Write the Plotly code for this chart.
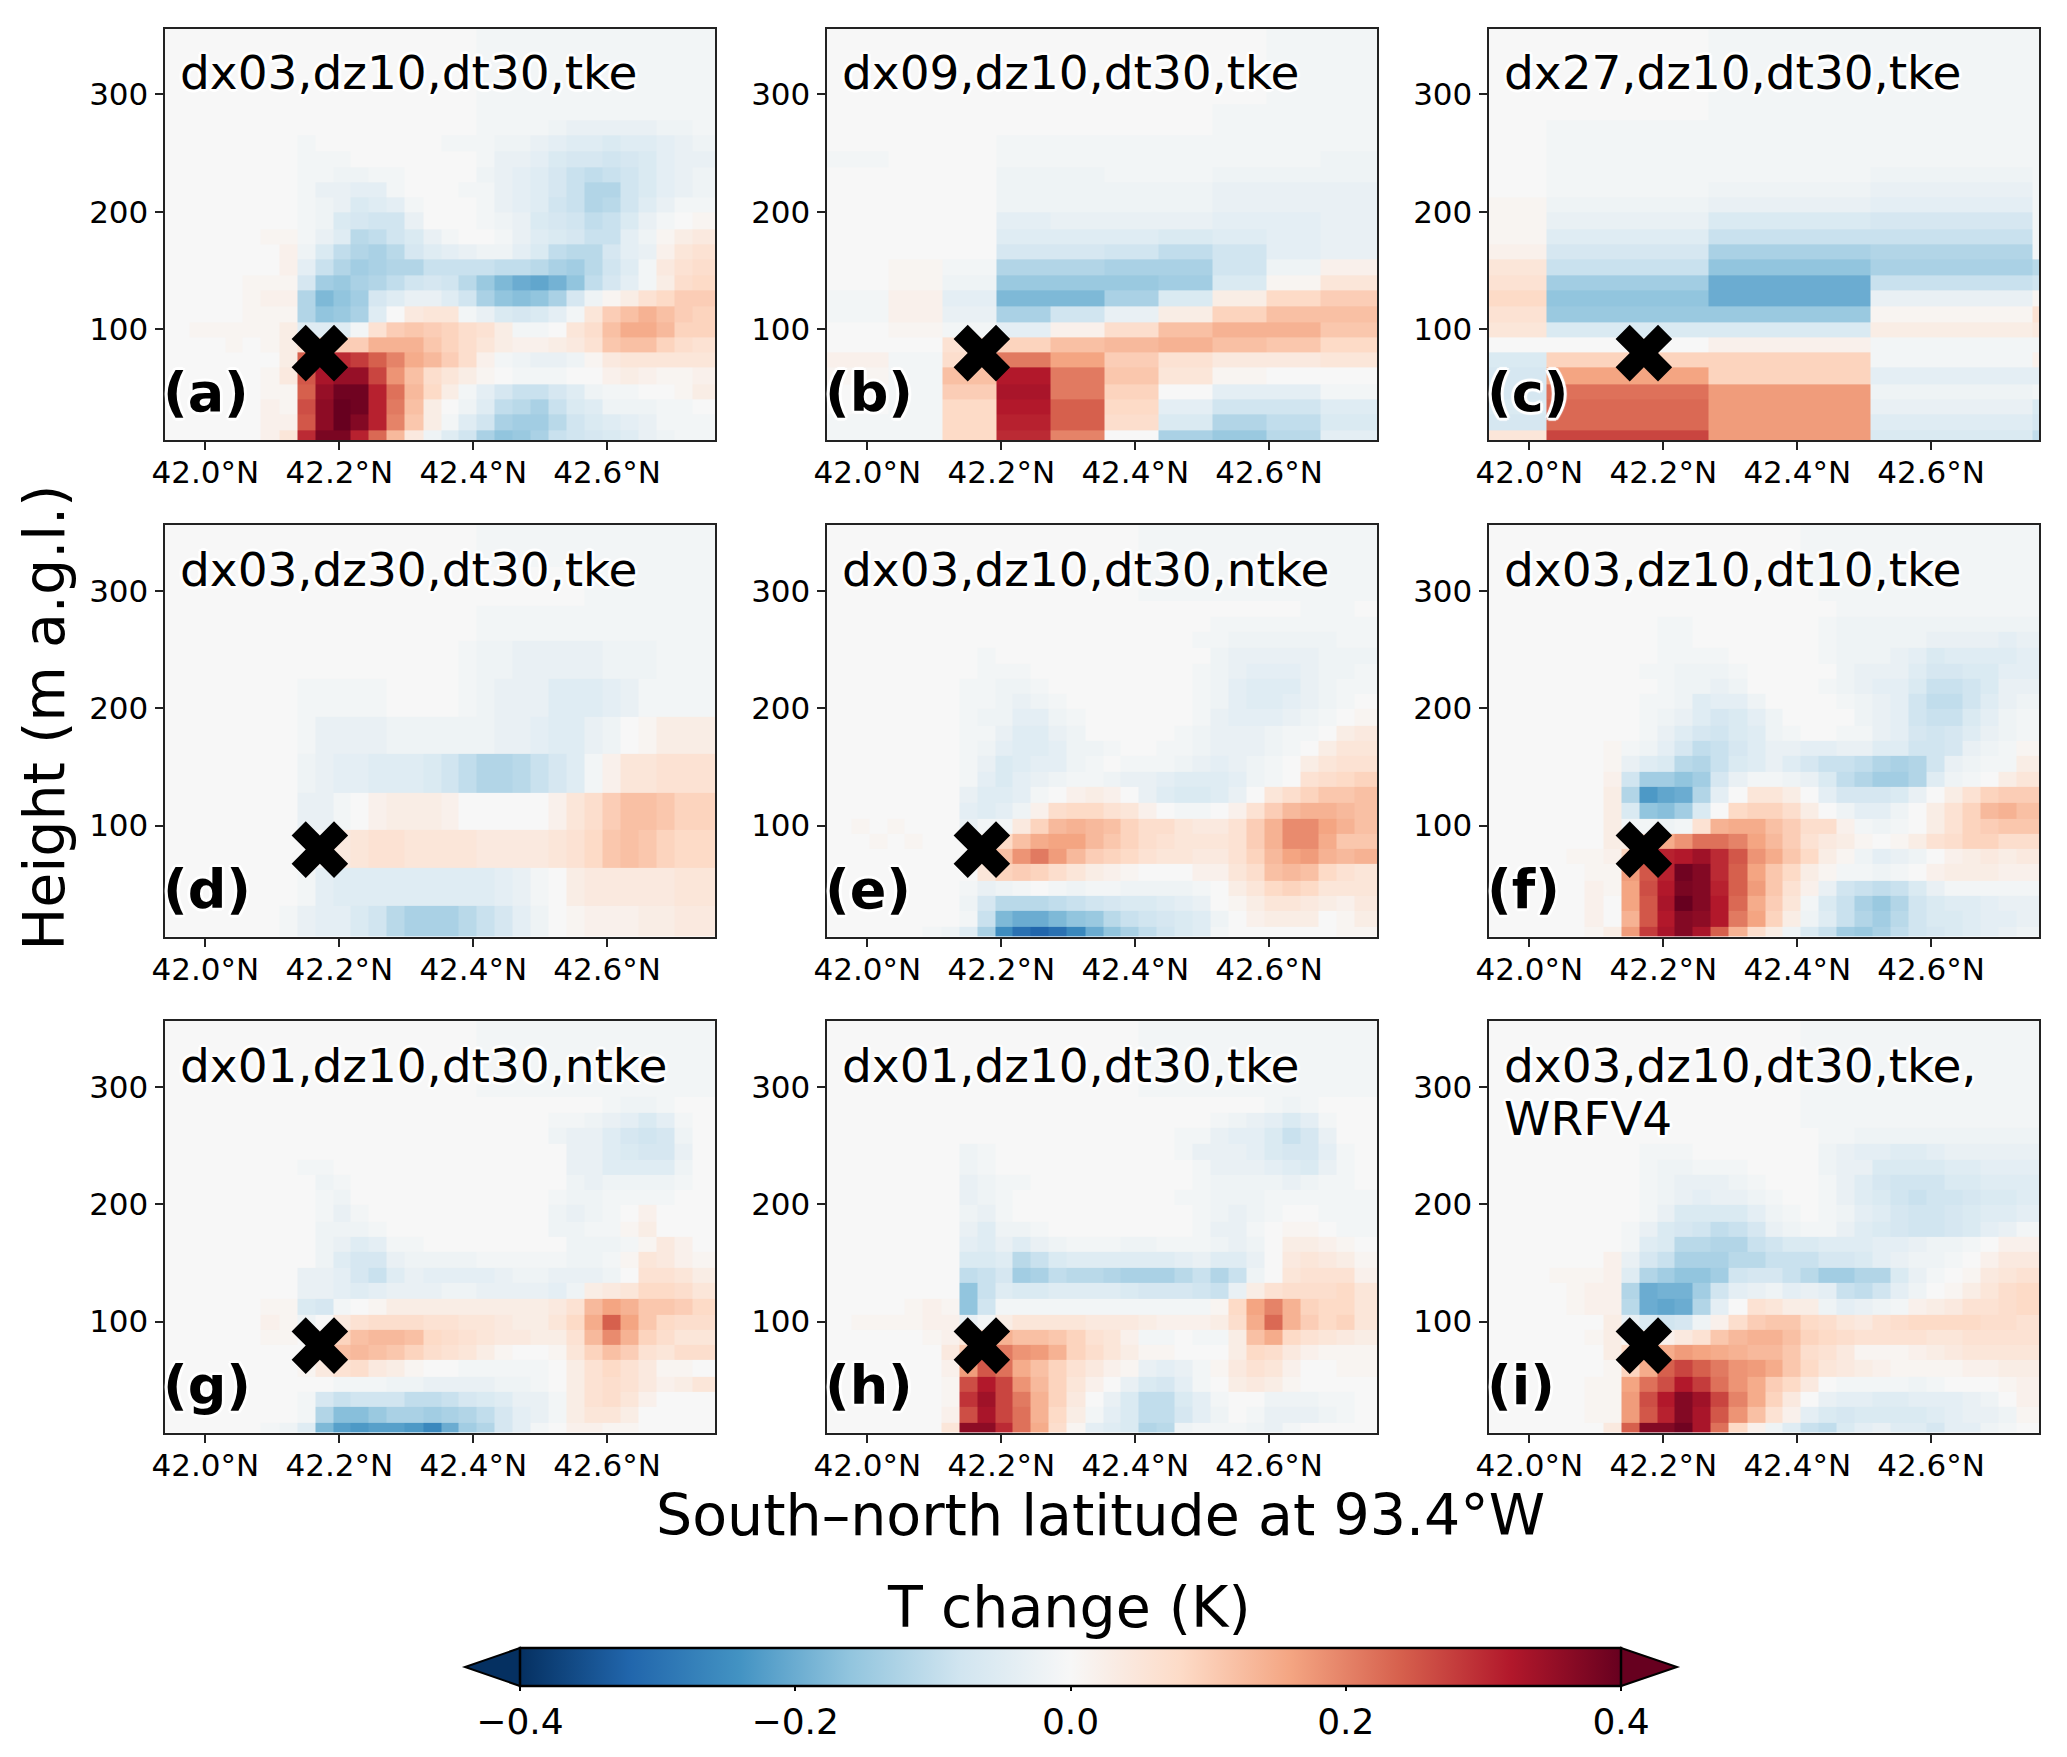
import numpy as np
import plotly.graph_objects as go

W, H = 2067, 1757

LAT_EDGES_3KM = [41.939,41.976,42.003,42.030,42.056,42.083,42.110,42.137,42.164,42.191,42.217,42.244,42.271,42.298,42.325,42.352,42.378,42.405,42.432,42.459,42.486,42.512,42.539,42.566,42.593,42.620,42.647,42.673,42.700,42.727,42.761]
LAT_EDGES_9KM = [41.939,42.031,42.112,42.193,42.273,42.354,42.435,42.515,42.596,42.677,42.761]
LAT_EDGES_27KM = [41.939,42.025,42.267,42.509,42.752,42.761]
Z_EDGES_10 = [5,14,27,40,53,67,80,93,106,119,133,146,159,172,185,199,212,225,238,251,265,278,291,304,317,331,344,357]
Z_EDGES_30 = [5,32,64,96,128,161,193,225,257,287,320,357]

TOP_3KM = [0,0,0,0,0,0,0, 0,0,0,0,0,0,0,0,0,0,-1,-1,-1,-1,-1,-1,-1,-1,-1,-1,-1,-1,-1]

# values in hundredths of a kelvin; rows run bottom to top
PANEL_A = [
[0,0,0,0,0,2,5, 30,38,38,31,23,13,4,-2,-5,-8,-13,-16,-15,-13,-9,-8,-7,-6,-5,-3,-2,-1,-1],
[0,0,0,0,0,2,2, 25,36,40,37,31,20,11,3,-1,-5,-8,-13,-14,-14,-11,-8,-6,-5,-4,-3,-1,-1,-1],
[0,0,0,0,0,2,1, 26,36,40,39,31,21,12,3,0,-2,-5,-10,-11,-13,-9,-6,-5,-2,-2,-2,-1,-1,0],
[0,0,0,0,0,1,1, 24,35,39,39,31,22,13,8,3,-1,-4,-7,-9,-9,-7,-5,-2,-1,-1,0,0,1,3],
[0,0,0,0,0,1,4, 25,33,35,35,27,18,12,7,5,3,1,0,-1,-1,-1,0,0,2,3,2,1,1,2],
[0,0,0,0,0,0,3, 24,30,30,28,24,20,15,13,10,7,2,-1,-2,-3,-3,-2,1,4,5,5,5,5,5],
[0,0,0,1,0,1,3, 6,9,10,10,14,14,14,11,9,7,5,3,2,2,3,4,6,11,12,12,9,7,6],
[0,1,1,1,1,1,3, -5,-5,-5,-1,6,10,11,10,9,7,6,3,-1,-1,0,5,7,12,15,15,13,9,9],
[0,0,0,0,1,1,1, -12,-16,-15,-13,-5,0,4,5,5,-1,-3,-6,-7,-6,-4,-1,5,10,12,14,12,10,9],
[0,0,0,0,1,2,2, -12,-18,-16,-14,-7,-5,-3,-3,-5,-8,-13,-16,-17,-16,-13,-7,-2,1,3,6,8,10,10],
[0,0,0,0,1,1,1, -7,-14,-15,-13,-12,-10,-8,-7,-8,-11,-15,-18,-20,-21,-19,-16,-10,-7,-4,-1,3,7,8],
[0,0,0,0,0,0,2, -4,-9,-12,-14,-13,-12,-12,-9,-9,-9,-9,-10,-10,-11,-13,-14,-11,-8,-5,-1,4,6,7],
[0,0,0,0,0,0,2, -2,-6,-10,-12,-13,-11,-7,-5,-4,-3,-2,-2,-4,-6,-10,-11,-11,-7,-4,-3,2,5,6],
[0,0,0,0,0,1,1, -1,-3,-5,-11,-10,-8,-6,-3,-1,0,0,-1,-3,-5,-6,-7,-9,-9,-4,-2,1,3,4],
[0,0,0,0,0,0,0, -1,-2,-6,-7,-8,-8,-3,0,0,0,-1,-2,-3,-6,-7,-8,-10,-9,-6,-3,-1,0,1],
[0,0,0,0,0,0,0, -1,-2,-3,-6,-5,-4,-1,0,0,0,-1,-3,-4,-5,-8,-9,-12,-11,-8,-5,-3,-1,-1],
[0,0,0,0,0,0,0, -1,-3,-3,-4,-4,-1,0,0,0,-1,-1,-3,-4,-5,-7,-9,-12,-12,-8,-6,-4,-3,-2],
[0,0,0,0,0,0,0, -1,-1,-2,-2,-1,-1,0,0,0,0,-2,-3,-4,-5,-7,-9,-10,-9,-8,-6,-4,-3,-2],
[0,0,0,0,0,0,0, -1,-1,-1,0,0,0,0,0,0,0,-1,-3,-3,-4,-6,-7,-7,-8,-7,-6,-4,-3,-3],
[0,0,0,0,0,0,0, -1,0,0,0,0,0,0,0,-1,-1,-1,-2,-2,-3,-4,-5,-5,-6,-5,-5,-4,-3,-2],
[0,0,0,0,0,0,0, 0,0,0,0,0,0,0,0,0,0,-1,-1,-1,-1,-2,-3,-3,-3,-3,-3,-2,-2,-1],
TOP_3KM, TOP_3KM, TOP_3KM, TOP_3KM, TOP_3KM, TOP_3KM,
]

PANEL_B = [
[-1,-1,8,30,20,0,-13,-15,-11,-4],
[-1,-1,8,31,24,7,-6,-12,-10,-6],
[0,-1,8,32,24,8,-4,-8,-8,-5],
[0,-1,10,33,21,9,0,-4,-4,-1],
[1,-1,12,32,21,11,5,1,0,0],
[2,-1,7,21,16,10,6,4,4,5],
[0,0,6,9,12,13,14,12,11,8],
[0,1,-1,-4,2,7,12,14,14,11],
[-1,2,-3,-13,-8,-3,3,9,12,12],
[-1,2,-4,-18,-18,-13,-6,3,8,10],
[0,1,-2,-15,-15,-15,-14,-6,1,5],
[0,1,-1,-12,-12,-13,-13,-8,-2,2],
[0,0,0,-7,-7,-8,-10,-8,-4,-3],
[0,0,0,-5,-5,-5,-6,-5,-4,-3],
[0,0,0,-4,-3,-3,-3,-4,-4,-3],
[0,0,0,-2,-2,-2,-2,-3,-3,-3],
[0,0,0,-2,-2,-2,-2,-3,-3,-3],
[0,0,0,-2,-2,-1,-1,-2,-2,-2],
[-1,0,0,-1,-1,-1,-1,-1,-1,-2],
[0,0,0,-1,-1,-1,-1,-1,-1,-1],
[0,0,0,0,0,0,0,-1,-1,-1],
[0,0,0,0,0,0,0,-1,-1,-1],
[0,0,0,0,0,0,0,0,-1,-1],
[0,0,0,0,0,0,0,0,-1,-1],
[0,0,0,0,0,0,0,0,-1,-1],
[0,0,0,0,0,0,0,0,-1,-1],
[0,0,0,0,0,0,0,0,-1,-1],
]

PANEL_C = [
[5,27,17,-6,-10],
[-7,23,17,-5,-7],
[-6,23,17,-3,-6],
[-7,22,17,-2,-1],
[-7,16,9,-4,-4],
[-6,9,9,-1,2],
[0,0,2,-1,-1],
[5,-6,-6,3,4],
[6,-15,-15,1,6],
[8,-16,-20,-3,1],
[6,-14,-20,-9,-8],
[5,-9,-16,-13,-11],
[2,-7,-13,-12,-1],
[1,-5,-9,-9,-1],
[1,-3,-6,-7,-1],
[1,-2,-3,-4,-1],
[0,-1,-2,-3,-1],
[0,-1,-1,-2,-1],
[0,-1,-1,-1,-1],
[0,-1,-1,-1,-1],
[0,-1,-1,-1,-1],
[0,0,-1,-1,-1],
[0,0,-1,-1,-1],
[0,0,-1,-1,-1],
[0,0,-1,-1,-1],
[0,0,-1,-1,-1],
[0,0,-1,-1,-1],
]

PANEL_D = [
[0,0,0,0,0,0,-1, -3,-4,-4,-6,-8,-11,-13,-13,-13,-11,-9,-7,-4,-2,0,1,2,2,2,3,3,4,4],
[0,0,0,0,0,0,0, -1,-4,-5,-5,-5,-5,-5,-5,-5,-5,-5,-4,-3,-1,0,3,4,4,4,4,4,5,5],
[0,0,0,0,0,0,0, 0,0,4,5,6,6,5,5,5,5,4,4,4,4,5,6,8,11,12,11,9,8,8],
[0,0,0,0,0,0,0, -3,-3,-1,0,2,3,3,3,2,0,0,0,0,0,2,5,7,10,12,12,11,9,9],
[0,0,0,0,0,0,0, -2,-3,-4,-4,-5,-5,-5,-6,-8,-10,-12,-12,-11,-9,-7,-5,-1,2,5,5,6,6,6],
[0,0,0,0,0,0,0, -1,-3,-3,-3,-3,-2,-2,-2,-2,-2,-2,-3,-3,-4,-5,-5,-3,-2,0,1,3,3,3],
[0,0,0,0,0,0,0, -1,-1,-1,-1,-1,0,0,0,0,-1,-2,-3,-3,-3,-5,-5,-5,-4,-3,-1,-1,-1,-1],
[0,0,0,0,0,0,0, 0,0,0,0,0,0,0,0,0,-1,-2,-2,-3,-3,-3,-3,-3,-2,-2,-2,-1,-1,-1],
[0,0,0,0,0,0,0, 0,0,0,0,0,0,0,0,0,0,-1,-1,-1,-1,-1,-1,-1,-1,-1,-1,-1,-1,-1],
[0,0,0,0,0,0,0, 0,0,0,0,0,0,0,0,0,0,0,0,0,0,0,0,-1,-1,-1,-1,-1,-1,-1],
TOP_3KM,
]

PANEL_E = [
[0,0,0,0,0,-1,-2, -5,-13,-25,-30,-32,-30,-26,-20,-16,-13,-10,-8,-6,-5,-1,0,0,0,0,0,0,1,1],
[0,0,0,0,0,0,0, -1,-9,-18,-20,-20,-18,-16,-15,-11,-9,-8,-7,-6,-5,-2,0,2,3,3,3,0,1,3],
[0,0,0,0,0,0,0, -2,-7,-11,-11,-11,-10,-9,-8,-7,-6,-6,-5,-4,-3,0,1,3,5,5,4,3,2,4],
[0,0,0,0,0,0,0, -1,-3,-2,-1,0,-1,-2,-1,-1,-2,-2,-2,-2,-1,0,3,5,8,9,8,5,5,5],
[0,0,0,0,0,0,0, 0,5,9,10,9,7,5,3,2,1,0,0,0,2,2,5,7,12,13,12,8,6,5],
[0,0,0,0,0,0,0, 0,7,12,18,21,17,13,10,9,8,6,5,5,4,4,6,9,13,16,17,14,13,14],
[0,0,1,0,1,0,0, 0,2,8,12,15,16,16,13,11,9,7,6,5,5,5,6,10,14,19,19,15,11,11],
[0,1,0,1,0,0,0, -3,-1,-1,4,9,13,14,13,12,9,7,7,5,4,4,6,10,14,19,19,16,14,12],
[0,0,0,0,0,0,0, -4,-5,-4,-2,2,7,8,8,6,5,2,0,-1,-1,0,2,6,10,13,14,14,13,12],
[0,0,0,0,0,0,0, -3,-5,-5,-4,-1,0,2,3,2,0,-3,-5,-6,-6,-5,-3,0,5,7,9,11,11,12],
[0,0,0,0,0,0,0, -1,-4,-6,-4,-3,-2,-1,-1,-2,-3,-3,-4,-5,-5,-5,-4,-2,-1,0,6,7,8,9],
[0,0,0,0,0,0,0, -1,-3,-6,-5,-4,-4,-2,-1,0,-1,-1,-1,-2,-3,-4,-3,-2,-1,0,3,5,6,6],
[0,0,0,0,0,0,0, -1,-2,-4,-5,-5,-4,-2,-2,-1,0,0,-1,-1,-2,-3,-3,-3,-2,-1,0,3,5,5],
[0,0,0,0,0,0,0, -1,-1,-3,-5,-5,-3,-2,0,0,0,0,0,-1,-2,-3,-3,-3,-2,-1,-1,0,3,4],
[0,0,0,0,0,0,0, -1,-2,-2,-4,-4,-2,-1,0,0,0,0,0,0,-1,-3,-4,-4,-4,-3,-2,-1,0,1],
[0,0,0,0,0,0,0, -1,-1,-2,-3,-2,-1,0,0,0,0,0,0,0,-1,-2,-4,-5,-5,-4,-3,-2,-1,0],
[0,0,0,0,0,0,0, -1,-1,-2,-2,-1,0,0,0,0,0,0,0,0,-1,-2,-4,-5,-5,-5,-3,-2,-1,-1],
[0,0,0,0,0,0,0, 0,-1,-1,-1,0,0,0,0,0,0,0,0,0,-1,-2,-3,-4,-4,-4,-3,-2,-2,-1],
[0,0,0,0,0,0,0, 0,-1,0,0,0,0,0,0,0,0,0,0,0,0,-2,-3,-3,-3,-3,-3,-2,-2,-2],
[0,0,0,0,0,0,0, 0,0,0,0,0,0,0,0,0,0,0,0,0,-1,-1,-2,-2,-2,-2,-2,-2,-1,-1],
[0,0,0,0,0,0,0, 0,0,0,0,0,0,0,0,0,0,0,0,0,0,-1,-1,-1,-1,-1,-1,-1,-1,-1],
[0,0,0,0,0,0,0, 0,0,0,0,0,0,0,0,0,0,0,0,0,0,0,0,0,0,0,-1,-1,-1,0],
TOP_3KM, TOP_3KM, TOP_3KM, TOP_3KM, TOP_3KM,
]

PANEL_F = [
[0,0,0,0,0,1,3, 17,28,33,37,33,24,14,7,3,-2,-6,-9,-14,-15,-13,-10,-8,-7,-6,-5,-4,-3,-2],
[0,0,0,0,0,2,0, 14,25,32,37,36,32,21,16,9,3,-2,-5,-9,-12,-14,-11,-8,-6,-6,-5,-4,-4,-3],
[0,0,0,0,0,2,0, 16,25,33,40,37,32,23,15,10,5,-1,-6,-9,-13,-15,-12,-8,-6,-5,-5,-4,-3,-3],
[0,0,0,0,0,2,1, 16,26,32,38,37,31,24,17,11,6,2,-3,-8,-9,-10,-9,-6,-3,-1,-1,-1,-1,-1],
[0,0,0,0,0,1,1, 17,25,31,39,37,30,24,16,11,8,3,1,-1,-1,-2,-1,0,2,3,3,3,2,2],
[0,0,0,0,1,1,2, 9,20,31,32,34,30,25,18,15,11,8,3,1,-2,-4,-3,-2,0,2,3,4,3,4],
[0,0,0,0,0,0,3, 3,8,15,18,22,22,20,16,13,10,6,4,3,1,0,1,3,6,7,9,9,7,7],
[0,0,0,0,0,0,3, -1,-1,-2,-1,6,14,15,15,12,10,7,7,2,-1,-2,-1,0,3,6,9,10,11,11],
[0,0,0,0,0,0,3, -6,-16,-17,-14,-6,0,8,9,9,7,3,0,-2,-4,-4,-2,0,3,6,9,13,14,12],
[0,0,0,0,0,0,3, -12,-23,-21,-20,-12,-4,0,5,5,3,0,-4,-7,-7,-7,-6,-3,0,3,6,9,10,10],
[0,0,0,0,0,0,2, -8,-14,-14,-16,-14,-7,-3,-1,-1,-2,-3,-6,-10,-12,-14,-14,-12,-5,-2,-1,0,3,5],
[0,0,0,0,0,0,1, -3,-5,-6,-11,-12,-9,-6,-5,-3,-5,-7,-9,-9,-10,-12,-13,-12,-8,-3,-2,-1,-1,3],
[0,0,0,0,0,0,1, -1,-2,-4,-7,-10,-9,-7,-5,-3,-3,-4,-4,-3,-3,-5,-5,-8,-8,-7,-3,-2,-1,1],
[0,0,0,0,0,0,0, 0,-1,-3,-5,-7,-8,-6,-5,-2,-1,0,0,-1,-1,-3,-4,-7,-8,-7,-5,-3,-2,-1],
[0,0,0,0,0,0,0, 0,-1,-2,-3,-5,-7,-6,-4,-2,0,0,0,0,-2,-3,-4,-8,-9,-9,-6,-4,-2,-1],
[0,0,0,0,0,0,0, 0,-1,-1,-2,-5,-4,-4,-2,0,0,0,0,-1,-2,-3,-4,-8,-10,-10,-8,-5,-3,-2],
[0,0,0,0,0,0,0, 0,0,-1,-2,-2,-3,-2,0,0,0,0,-1,-2,-3,-4,-4,-6,-9,-9,-8,-6,-3,-3],
[0,0,0,0,0,0,0, 0,-1,-1,-2,-2,-2,-1,0,0,0,0,0,-2,-3,-3,-3,-5,-7,-7,-6,-6,-4,-4],
[0,0,0,0,0,0,0, 0,0,-1,-1,-1,-1,0,0,0,0,0,-1,-2,-2,-2,-3,-4,-6,-5,-5,-5,-5,-4],
[0,0,0,0,0,0,0, 0,0,-1,-1,0,0,0,0,0,0,0,-1,-2,-2,-2,-2,-2,-3,-3,-3,-3,-4,-3],
[0,0,0,0,0,0,0, 0,0,-1,-1,0,0,0,0,0,0,0,-1,-2,-2,-2,-2,-2,-2,-2,-2,-2,-2,-2],
[0,0,0,0,0,0,0, 0,0,0,0,0,0,0,0,0,0,0,0,-1,-1,-1,-1,-1,-1,-1,-1,-1,-1,-1],
[0,0,0,0,0,0,0, 0,0,0,0,0,0,0,0,0,0,0,-1,-1,-1,-1,-1,-1,-1,-1,-1,-1,-1,-1],
TOP_3KM, TOP_3KM, TOP_3KM, TOP_3KM,
]

PANEL_G = [
[0,0,0,0,0,-1,-2, -5,-18,-22,-23,-22,-22,-23,-26,-20,-14,-12,-7,-4,-1,0,2,2,1,1,0,0,0,0],
[0,0,0,0,0,0,0, -1,-12,-17,-17,-15,-13,-13,-14,-13,-12,-10,-7,-4,-3,-1,3,5,5,3,0,0,0,0],
[0,0,0,0,0,0,0, -1,-7,-9,-8,-8,-8,-10,-10,-9,-7,-6,-5,-3,-3,-1,3,6,7,5,2,0,0,0],
[0,0,0,0,0,0,0, 0,0,-1,-1,-1,-2,-2,-3,-3,-3,-3,-2,-2,-1,0,3,6,7,6,4,2,3,5],
[0,0,0,0,0,0,0, 1,4,6,7,4,3,1,0,0,-1,-1,-1,-1,-1,0,3,6,8,6,4,1,1,0],
[0,0,0,0,0,0,0, 0,4,12,13,12,11,9,7,6,5,3,1,0,0,1,5,9,12,10,6,5,7,7],
[0,0,0,0,0,1,1, 0,2,9,12,13,13,12,8,7,6,5,4,4,3,3,6,13,19,14,9,7,5,5],
[0,0,0,0,0,2,1, -2,0,4,6,7,7,7,6,6,5,5,4,3,3,5,8,15,24,16,11,8,7,7],
[0,0,0,0,0,1,1, -6,-7,-1,0,1,3,3,3,3,3,3,3,3,3,4,6,13,16,14,11,11,10,8],
[0,0,0,0,0,0,0, -3,-3,-4,-5,-4,-3,-3,-3,-2,-2,-3,-3,-3,-3,-4,-2,3,4,5,8,8,7,5],
[0,0,0,0,0,0,0, -3,-3,-4,-7,-9,-5,-3,-4,-4,-4,-4,-3,-2,-2,-3,-3,-3,-2,0,6,6,5,3],
[0,0,0,0,0,0,0, 0,-2,-5,-7,-7,-3,-2,-2,-2,-2,-1,-1,-1,-1,-1,-2,-2,-1,1,5,4,2,1],
[0,0,0,0,0,0,0, 0,-2,-3,-5,-4,-1,-1,0,0,0,0,0,0,0,0,-2,-2,-2,-1,1,4,2,0],
[0,0,0,0,0,0,0, 0,-2,-2,-2,-1,0,0,0,0,0,0,0,0,0,-2,-2,-1,-1,1,3,0,0,0],
[0,0,0,0,0,0,0, 0,-1,-3,-1,0,0,0,0,0,0,0,0,0,0,-2,-3,-2,-1,0,2,0,0,0],
[0,0,0,0,0,0,0, 0,-1,-2,0,0,0,0,0,0,0,0,0,0,0,-1,-2,-2,-1,-1,-1,-1,0,0],
[0,0,0,0,0,0,0, 0,-2,-1,0,0,0,0,0,0,0,0,0,0,0,0,-2,-3,-2,-2,-2,-2,-1,0],
[0,0,0,0,0,0,0, -1,-1,0,0,0,0,0,0,0,0,0,0,0,0,0,-3,-3,-5,-5,-5,-5,-2,0],
[0,0,0,0,0,0,0, 0,0,0,0,0,0,0,0,0,0,0,0,0,0,0,-3,-3,-5,-6,-7,-7,-3,0],
[0,0,0,0,0,0,0, 0,0,0,0,0,0,0,0,0,0,0,0,0,0,-2,-3,-3,-5,-7,-8,-7,-2,0],
[0,0,0,0,0,0,0, 0,0,0,0,0,0,0,0,0,0,0,0,0,0,-1,-1,-2,-3,-4,-6,-4,-1,0],
[0,0,0,0,0,0,0, 0,0,0,0,0,0,0,0,0,0,0,0,0,0,0,0,0,-1,-2,-2,-1,0,0],
TOP_3KM, TOP_3KM, TOP_3KM, TOP_3KM, TOP_3KM,
]

PANEL_H = [
[0,0,0,0,0,0,5, 36,36,30,22,15,7,1,-4,-5,-6,-12,-11,-2,-1,-1,-1,-2,-3,-1,0,0,0,0],
[0,0,0,0,0,0,2, 26,33,27,22,14,8,3,-1,-4,-6,-10,-10,-7,-4,-2,0,-1,-3,-3,-3,-2,-1,0],
[0,0,0,0,0,0,1, 29,34,27,21,14,9,4,0,-3,-6,-10,-10,-6,-4,-1,0,0,-2,-2,-2,-1,-1,0],
[0,0,0,0,0,0,1, 26,32,27,18,13,9,5,2,0,-3,-6,-7,-4,-1,0,3,4,3,1,0,0,0,0],
[0,0,0,0,0,0,2, 17,25,22,15,12,9,6,4,2,1,-3,-4,-3,-1,1,4,6,5,2,0,0,1,1],
[0,0,0,0,0,0,4, 11,18,21,18,17,14,9,7,5,3,1,1,0,0,0,3,8,7,4,2,1,1,1],
[0,0,0,0,0,1,2, 5,9,14,12,12,11,9,6,5,2,-1,-1,0,-1,-1,3,12,15,8,6,5,4,3],
[0,1,1,1,1,2,2, -3,-1,3,5,5,5,5,4,4,4,3,2,2,2,3,7,15,23,14,10,8,9,5],
[0,0,0,0,1,2,1, -16,-8,-1,-1,-1,-1,-1,-1,-1,-1,-1,-1,-1,-1,1,8,16,20,14,9,8,8,5],
[0,0,0,0,0,0,0, -16,-9,-5,-6,-6,-5,-5,-5,-5,-6,-7,-7,-7,-8,-9,-3,3,6,7,7,7,8,5],
[0,0,0,0,0,0,0, -10,-9,-7,-14,-13,-10,-11,-11,-12,-13,-13,-13,-11,-9,-12,-9,-2,0,5,6,6,6,2],
[0,0,0,0,0,0,0, -6,-6,-5,-11,-9,-6,-5,-5,-5,-5,-5,-5,-4,-3,-5,-5,-3,0,4,5,4,3,1],
[0,0,0,0,0,0,0, -4,-5,-3,-5,-3,-2,-1,-1,-1,-2,-2,-1,-1,-1,-2,-3,-2,0,3,3,2,1,0],
[0,0,0,0,0,0,0, -3,-5,-2,-2,-1,0,0,0,0,0,0,0,0,-1,-3,-3,-1,0,1,1,0,-1,-1],
[0,0,0,0,0,0,0, -2,-3,-1,0,0,0,0,0,0,0,0,0,0,-1,-2,-3,-2,-1,0,0,-1,-1,-1],
[0,0,0,0,0,0,0, -3,-2,-1,0,0,0,0,0,0,0,0,0,-1,-1,-2,-2,-2,-1,-1,-1,-1,-1,-1],
[0,0,0,0,0,0,0, -3,-2,-1,-1,0,0,0,0,0,0,0,0,0,-1,-2,-2,-2,-2,-3,-2,-1,-1,0],
[0,0,0,0,0,0,0, -2,-1,0,0,0,0,0,0,0,0,0,0,0,-1,-3,-3,-3,-4,-5,-6,-3,-1,0],
[0,0,0,0,0,0,0, -2,-1,0,0,0,0,0,0,0,0,0,0,-1,-3,-3,-3,-4,-6,-7,-7,-4,-1,0],
[0,0,0,0,0,0,0, 0,0,0,0,0,0,0,0,0,0,0,0,-1,-1,-3,-4,-4,-6,-9,-7,-3,0,0],
[0,0,0,0,0,0,0, 0,0,0,0,0,0,0,0,0,0,0,0,0,0,-1,-2,-3,-4,-6,-4,-1,0,0],
[0,0,0,0,0,0,0, 0,0,0,0,0,0,0,0,0,0,0,0,0,0,0,0,0,-1,-2,-1,0,0,0],
TOP_3KM, TOP_3KM, TOP_3KM, TOP_3KM, TOP_3KM,
]

PANEL_I = [
[0,0,0,0,0,0,4, 24,37,37,39,33,22,8,2,-2,-5,-9,-10,-6,-4,-3,-5,-5,-7,-4,-4,-2,-1,0],
[0,0,0,0,0,1,1, 17,25,31,37,33,25,18,12,6,2,-4,-6,-7,-6,-6,-6,-6,-5,-4,-3,-3,-2,1],
[0,0,0,0,0,1,1, 17,26,32,37,34,27,20,15,9,4,0,-3,-4,-4,-5,-5,-4,-4,-4,-3,-2,0,2],
[0,0,0,0,0,1,1, 16,22,26,32,28,22,18,15,10,8,4,0,-1,-1,-1,-1,-2,-1,0,0,0,1,2],
[0,0,0,0,0,0,1, 9,15,24,27,24,21,18,17,15,11,8,5,4,3,2,1,1,1,1,2,2,3,3],
[0,0,0,0,0,0,3, 8,10,15,17,16,15,14,13,13,11,7,6,4,1,1,1,2,3,4,5,5,5,5],
[0,0,0,0,0,1,3, 1,2,2,4,6,11,13,14,14,12,9,8,7,6,6,6,6,5,5,6,6,6,6],
[0,0,0,0,0,0,3, -3,-6,-8,-7,-2,2,7,10,11,11,8,7,5,4,6,7,8,8,8,8,7,7,6],
[0,0,0,0,1,2,2, -11,-20,-21,-20,-12,-4,0,6,5,3,3,-2,-4,-3,-2,-1,2,3,4,6,6,7,8],
[0,0,0,0,1,2,2, -12,-20,-19,-19,-14,-8,-4,-3,-2,-4,-3,-4,-9,-10,-8,-4,-2,0,1,3,5,7,8],
[0,0,0,1,1,1,2, -5,-12,-14,-16,-16,-14,-8,-7,-7,-9,-11,-14,-14,-12,-12,-6,-3,-1,0,1,4,5,6],
[0,0,0,0,0,0,2, -3,-7,-9,-13,-13,-13,-11,-11,-9,-9,-9,-7,-7,-6,-4,-3,-2,-2,-1,0,2,4,4],
[0,0,0,0,0,0,0, -1,-5,-6,-11,-11,-12,-12,-9,-8,-6,-6,-5,-5,-5,-4,-4,-3,-2,-2,-1,0,2,2],
[0,0,0,0,0,0,0, -1,-3,-6,-7,-8,-10,-9,-7,-3,-2,-1,-1,-3,-5,-6,-7,-8,-8,-7,-6,-4,-3,-1],
[0,0,0,0,0,0,0, 0,-1,-3,-6,-6,-6,-6,-4,-2,-1,0,-1,-2,-4,-5,-7,-8,-8,-7,-6,-5,-5,-4],
[0,0,0,0,0,0,0, 0,-1,-2,-3,-4,-3,-3,-2,-1,0,0,-1,-3,-5,-6,-8,-9,-8,-8,-7,-6,-6,-5],
[0,0,0,0,0,0,0, 0,-1,-2,-3,-3,-3,-2,-1,0,0,0,-1,-3,-5,-7,-8,-8,-8,-6,-6,-5,-5,-5],
[0,0,0,0,0,0,0, 0,-1,-2,-2,-1,-1,-1,0,0,0,0,-2,-3,-3,-6,-6,-6,-6,-5,-5,-4,-4,-4],
[0,0,0,0,0,0,0, 0,-1,-1,-1,0,0,0,0,0,0,0,-2,-3,-4,-4,-5,-5,-4,-3,-3,-3,-3,-3],
[0,0,0,0,0,0,0, 0,0,0,0,0,0,0,0,0,0,0,-1,-1,-2,-2,-2,-2,-2,-2,-2,-2,-2,-2],
[0,0,0,0,0,0,0, 0,0,0,0,0,0,0,0,0,0,-1,-1,-1,-1,-1,-1,-1,-1,-1,-1,-1,-1,-1],
TOP_3KM, TOP_3KM, TOP_3KM, TOP_3KM, TOP_3KM, TOP_3KM,
]

TITLES = ["dx03,dz10,dt30,tke","dx09,dz10,dt30,tke","dx27,dz10,dt30,tke",
          "dx03,dz30,dt30,tke","dx03,dz10,dt30,ntke","dx03,dz10,dt10,tke",
          "dx01,dz10,dt30,ntke","dx01,dz10,dt30,tke","dx03,dz10,dt30,tke,"]
SECOND_LINE = ["","","","","","","","","WRFV4"]
LABELS = ["(a)","(b)","(c)","(d)","(e)","(f)","(g)","(h)","(i)"]
PANELS = [PANEL_A,PANEL_B,PANEL_C,PANEL_D,PANEL_E,PANEL_F,PANEL_G,PANEL_H,PANEL_I]
X_GRIDS = [LAT_EDGES_3KM,LAT_EDGES_9KM,LAT_EDGES_27KM]+[LAT_EDGES_3KM]*6
Z_GRIDS = [Z_EDGES_10,Z_EDGES_10,Z_EDGES_10,Z_EDGES_30]+[Z_EDGES_10]*5

LAT_TICKS = [42.0,42.2,42.4,42.6]
LAT_LABELS = ["42.0°N","42.2°N","42.4°N","42.6°N"]
Z_TICKS = [100,200,300]
SITE_LAT = [42.171]
SITE_Z = [79.5]
CB_TICKS = [-0.4,-0.2,0.0,0.2,0.4]
CB_LABELS = ["−0.4","−0.2","0.0","0.2","0.4"]

RDBU = [[0.0,"#053061"],[0.1,"#2166ac"],[0.2,"#4393c3"],[0.3,"#92c5de"],[0.4,"#d1e5f0"],
        [0.5,"#f7f7f7"],[0.6,"#fddbc7"],[0.7,"#f4a582"],[0.8,"#d6604d"],[0.9,"#b2182b"],[1.0,"#67001f"]]

FONT = "DejaVu Sans"
COL_L = [164.5,826.5,1488.5]
ROW_T = [28.5,525,1021]
PW, PH = 550.5, 411.5
HALO = ",".join(f"{a}px {b}px 1px #fff" for a,b in [(-2,-2),(2,-2),(-2,2),(2,2),(0,-3),(0,3),(-3,0),(3,0)])

def px(x): return x/W
def py(y): return 1-y/H

fig = go.Figure()
layout = {}
anns = []
for i in range(9):
    r,c = i//3,i%3
    sfx = "" if i==0 else str(i+1)
    L,T = COL_L[c],ROW_T[r]
    axcommon = dict(showline=True,mirror=True,linecolor="#222222",linewidth=2,ticks="outside",
                    tickwidth=2,ticklen=8,tickcolor="#222222",showgrid=False,zeroline=False,
                    tickfont=dict(family=FONT,size=31,color="black"))
    layout["xaxis"+sfx] = dict(domain=[px(L),px(L+PW)],range=[41.939,42.761],tickvals=LAT_TICKS,
                               ticktext=LAT_LABELS,anchor="y"+sfx,ticklabelstandoff=-4,**axcommon)
    layout["yaxis"+sfx] = dict(domain=[py(T+PH),py(T)],range=[5.5,356],tickvals=Z_TICKS,
                               anchor="x"+sfx,**axcommon)
    fig.add_trace(go.Heatmap(z=np.array(PANELS[i])/100,x=X_GRIDS[i],y=Z_GRIDS[i],coloraxis="coloraxis",
                             xaxis="x"+sfx,yaxis="y"+sfx,hoverinfo="skip"))
    fig.add_trace(go.Scatter(x=SITE_LAT,y=SITE_Z,mode="markers",xaxis="x"+sfx,yaxis="y"+sfx,showlegend=False,
                             marker=dict(symbol="x",size=50,color="black",line=dict(width=0)),hoverinfo="skip"))
    anns.append(dict(text=TITLES[i],xref="paper",yref="paper",x=px(L+13),y=py(T+44),xanchor="left",yanchor="middle",
                     align="left",showarrow=False,font=dict(family=FONT,size=47,color="black",shadow=HALO)))
    if SECOND_LINE[i]:
        anns.append(dict(text=SECOND_LINE[i],xref="paper",yref="paper",x=px(L+13),y=py(T+97),xanchor="left",yanchor="middle",
                         align="left",showarrow=False,font=dict(family=FONT,size=47,color="black",shadow=HALO)))
    anns.append(dict(text="<b>"+LABELS[i]+"</b>",xref="paper",yref="paper",x=px(L-4),y=py(T+364),xanchor="left",
                     yanchor="middle",showarrow=False,font=dict(family=FONT,size=54,color="black",shadow=HALO)))

anns += [
    dict(text="South–north latitude at 93.4°W",xref="paper",yref="paper",x=px(1100),y=py(1515),xanchor="center",
         yanchor="middle",showarrow=False,font=dict(family=FONT,size=57,color="black")),
    dict(text="T change (K)",xref="paper",yref="paper",x=px(1069),y=py(1607),xanchor="center",yanchor="middle",
         showarrow=False,font=dict(family=FONT,size=57,color="black")),
    dict(text="Height (m a.g.l.)",xref="paper",yref="paper",x=px(43.5),y=py(718),xanchor="center",yanchor="middle",
         textangle=-90,showarrow=False,font=dict(family=FONT,size=57,color="black")),
]

BAR_L,BAR_R,BAR_T,BAR_B = 520,1621,1648,1686
TIP_L,TIP_R = 465,1677
BAR_MID = (BAR_T+BAR_B)/2
def poly(pts):
    return "M "+" L ".join(f"{px(a):.5f},{py(b):.5f}" for a,b in pts)+" Z"
shapes = [
    dict(type="path",xref="paper",yref="paper",path=poly([(BAR_L,BAR_T),(TIP_L,BAR_MID),(BAR_L,BAR_B)]),
         fillcolor="#053061",line=dict(color="black",width=2)),
    dict(type="path",xref="paper",yref="paper",path=poly([(BAR_R,BAR_T),(TIP_R,BAR_MID),(BAR_R,BAR_B)]),
         fillcolor="#67001f",line=dict(color="black",width=2)),
]

fig.update_layout(
    width=W,height=H,margin=dict(l=0,r=0,t=0,b=0,autoexpand=False),
    paper_bgcolor="white",plot_bgcolor="white",showlegend=False,
    annotations=anns,shapes=shapes,
    coloraxis=dict(colorscale=RDBU,cmin=-0.4,cmax=0.4,colorbar=dict(
        orientation="h",lenmode="pixels",len=BAR_R-BAR_L,thicknessmode="pixels",thickness=BAR_B-BAR_T,
        x=px(BAR_L),xanchor="left",y=py(BAR_T),yanchor="top",xpad=0,ypad=0,
        tickvals=CB_TICKS,ticktext=CB_LABELS,ticks="outside",ticklen=4,tickwidth=2,tickcolor="black",
        outlinecolor="black",outlinewidth=2.5,
        tickfont=dict(family=FONT,size=36,color="black"))),
    **layout)
fig.write_html("out.html",config={"displayModeBar":False},
               post_script="document.body.style.margin='0';document.body.style.overflow='hidden';")
